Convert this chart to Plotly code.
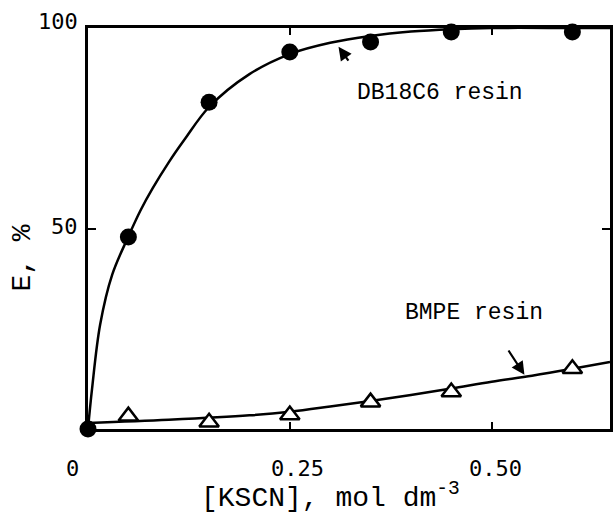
import plotly.graph_objects as go

# Measured points
kscn_points = [0.0, 0.05, 0.15, 0.25, 0.35, 0.45, 0.60]
db18c6_E = [0.0, 47.9, 81.5, 94.0, 96.5, 99.0, 99.0]

bmpe_x = [0.05, 0.15, 0.25, 0.35, 0.45, 0.60]
bmpe_E = [3.2, 1.7, 3.5, 6.7, 9.2, 15.0]

# Fitted curves
db_curve_x = [0.0, 0.005, 0.015, 0.03, 0.05, 0.065, 0.08, 0.1, 0.12, 0.15,
              0.2, 0.25, 0.3, 0.35, 0.4, 0.45, 0.5, 0.6, 0.6466]
db_curve_y = [0.0, 10.0, 26.0, 38.5, 48.0, 54.5, 60.0, 66.5, 72.3, 80.3,
              88.5, 93.5, 96.3, 98.0, 99.1, 99.7, 100.0, 100.0, 100.0]

bmpe_curve_x = [0.0, 0.1, 0.2, 0.25, 0.3, 0.35, 0.4, 0.45, 0.5, 0.55, 0.6, 0.6466]
bmpe_curve_y = [1.5, 2.3, 3.4, 4.3, 5.6, 7.0, 8.5, 10.1, 11.8, 13.3, 15.0, 16.7]

x_tick_pos = [-0.0305, 0.4019, 0.781]      # paper positions of the printed labels
x_tick_text = ["0", "0.25", "0.50"]
y_tick_pos = [1.015, 0.506]
y_tick_text = ["100", "50"]

X_RANGE = [0, 0.6466]
Y_RANGE = [0, 100]

TICKFONT = dict(family="DejaVu Sans Mono", size=22, color="black")
TEXTFONT = dict(family="Liberation Mono", size=23, color="black")
TITLEFONT = dict(family="Liberation Mono", size=28, color="black")

fig = go.Figure()

fig.add_trace(go.Scatter(x=bmpe_curve_x, y=bmpe_curve_y, mode="lines",
                         line=dict(color="black", width=2.5, shape="spline"),
                         hoverinfo="skip", cliponaxis=False))
fig.add_trace(go.Scatter(x=db_curve_x, y=db_curve_y, mode="lines",
                         line=dict(color="black", width=2.5, shape="spline", smoothing=1.0),
                         hoverinfo="skip", cliponaxis=False))
fig.add_trace(go.Scatter(x=bmpe_x, y=bmpe_E, mode="markers",
                         marker=dict(symbol="triangle-up", size=17, color="white",
                                     line=dict(color="black", width=2.5)),
                         cliponaxis=False))
fig.add_trace(go.Scatter(x=kscn_points, y=db18c6_E, mode="markers",
                         marker=dict(symbol="circle", size=17, color="black",
                                     line=dict(color="black", width=0)),
                         cliponaxis=False))

annotations = []
for v, t in zip(x_tick_pos, x_tick_text):
    annotations.append(dict(x=v, y=-0.0973, xref="paper", yref="paper", text=t, showarrow=False,
                            font=TICKFONT, xanchor="center", yanchor="middle"))
for v, t in zip(y_tick_pos, y_tick_text):
    annotations.append(dict(x=-0.0152, y=v, xref="paper", yref="paper", text=t, showarrow=False,
                            font=TICKFONT, xanchor="right", yanchor="middle"))

annotations += [
    dict(x=0.436, y=83.8, xref="x", yref="y", text="DB18C6 resin", showarrow=False,
         font=TEXTFONT, xanchor="center", yanchor="middle"),
    dict(x=0.478, y=28.9, xref="x", yref="y", text="BMPE resin", showarrow=False,
         font=TEXTFONT, xanchor="center", yanchor="middle"),
    dict(x=0.3103, y=95.3, ax=0.3239, ay=91.5, xref="x", yref="y", axref="x", ayref="y",
         text="", showarrow=True, arrowhead=2, arrowsize=1.2, arrowwidth=2.2, arrowcolor="black"),
    dict(x=0.5406, y=13.5, ax=0.5197, ay=19.95, xref="x", yref="y", axref="x", ayref="y",
         text="", showarrow=True, arrowhead=2, arrowsize=1.2, arrowwidth=2.2, arrowcolor="black"),
    dict(x=0.465, y=-0.168, xref="paper", yref="paper",
         text="[KSCN], mol dm<sup>-3</sup>", showarrow=False,
         font=TITLEFONT, xanchor="center", yanchor="middle"),
    dict(x=-0.1257, y=0.426, xref="paper", yref="paper", text="E, %", showarrow=False,
         font=TITLEFONT, textangle=-90, xanchor="center", yanchor="middle"),
]

fig.update_layout(
    width=613, height=514,
    margin=dict(l=88, r=0, t=28, b=85),
    paper_bgcolor="white", plot_bgcolor="white",
    showlegend=False,
    annotations=annotations,
    xaxis=dict(range=X_RANGE, showgrid=False, zeroline=False, showline=True,
               linecolor="black", linewidth=3, mirror="ticks",
               ticks="inside", tickvals=[0.25, 0.5], ticklen=7, tickwidth=2,
               tickcolor="black", showticklabels=False),
    yaxis=dict(range=Y_RANGE, showgrid=False, zeroline=False, showline=True,
               linecolor="black", linewidth=3, mirror="ticks",
               ticks="inside", tickvals=[50], ticklen=8, tickwidth=2,
               tickcolor="black", showticklabels=False),
)

fig.write_html("out.html")
